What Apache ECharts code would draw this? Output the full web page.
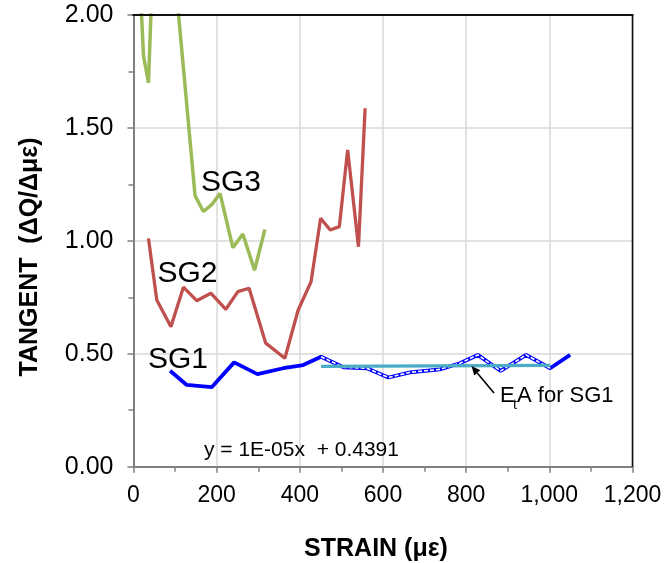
<!DOCTYPE html>
<html>
<head>
<meta charset="utf-8">
<script src="https://cdn.jsdelivr.net/npm/echarts@6/dist/echarts.min.js"></script>
<style>
html,body{margin:0;padding:0;background:#fff;}
#chart{width:665px;height:563px;}
</style>
</head>
<body>
<div id="chart"></div>
<script>
// ---- data ----
const xTickLabels = ['0', '200', '400', '600', '800', '1,000', '1,200'];
const yTickLabels = ['0.00', '0.50', '1.00', '1.50', '2.00'];

const sg1Strain  = [88, 128, 188, 242, 298, 360, 408, 451, 505, 561, 613, 665, 737, 785, 828, 883, 944, 1002, 1050];
const sg1Tangent = [0.425, 0.362, 0.352, 0.462, 0.410, 0.436, 0.450, 0.487, 0.440, 0.436, 0.395, 0.418, 0.431, 0.458, 0.495, 0.424, 0.495, 0.436, 0.495];

const sg2Strain  = [36, 56, 90, 120, 152, 186, 222, 251, 278, 318, 364, 396, 427, 450, 473, 495, 515, 541, 557];
const sg2Tangent = [1.011, 0.738, 0.620, 0.795, 0.735, 0.768, 0.697, 0.775, 0.790, 0.547, 0.480, 0.694, 0.819, 1.100, 1.048, 1.063, 1.403, 0.974, 1.587];

const sg3Strain  = [15, 24, 36, 48, 75, 100, 148, 168, 188, 208, 239, 263, 291, 316];
const sg3Tangent = [2.17, 1.82, 1.70, 2.32, 2.50, 2.17, 1.20, 1.13, 1.16, 1.21, 0.97, 1.03, 0.87, 1.05];

// fitted-range (dashed) part of SG1 and its trend line
const fitStart = 451, fitEnd = 1002;
const trendStrain  = [451, 1002];
const trendTangent = [0.444, 0.449];

const seriesNames = ['SG1', 'SG2', 'SG3'];
const equationText = 'y = 1E-05x  + 0.4391';

// ---- build ----
const pair = (xs, ys) => xs.map((x, i) => [x, ys[i]]);
const sg1 = pair(sg1Strain, sg1Tangent);
const sg1Fit = sg1.filter(p => p[0] >= fitStart && p[0] <= fitEnd);

const FONT = '"Liberation Sans", Arial, sans-serif';
const W = 665, H = 563;
const G = {left: 133.5, right: 32.5, top: 15, bottom: 96.3};
const gR = W - G.right, gB = H - G.bottom;

const chart = echarts.init(document.getElementById('chart'), null, {renderer: 'canvas'});

// arrow geometry (annotation)
const tail = [494, 393], head = [471.5, 366];
const dx = head[0] - tail[0], dy = head[1] - tail[1];
const len = Math.hypot(dx, dy), ux = dx / len, uy = dy / len;
const aL = 9, aW = 4;
const baseX = head[0] - ux * aL, baseY = head[1] - uy * aL;
const arrowPts = [head, [baseX - uy * aW, baseY + ux * aW], [baseX + uy * aW, baseY - ux * aW]];

const axisCommon = {
  axisLine: {show: true, onZero: false, lineStyle: {color: '#808080', width: 2}},
  axisTick: {show: true, inside: false, length: 6, lineStyle: {color: '#808080', width: 1.5}},
  minorTick: {show: true, splitNumber: 2, length: 5, lineStyle: {color: '#808080', width: 1.5}},
  splitLine: {show: true, lineStyle: {color: '#d9d9d9', width: 1.5}}
};

const option = {
  animation: false,
  backgroundColor: '#fff',
  grid: Object.assign({show: false}, G),
  xAxis: Object.assign({
    type: 'value', min: 0, max: 1200, interval: 200,
    axisLabel: {margin: 17, fontSize: 23, fontFamily: FONT, color: '#000',
      formatter: v => xTickLabels[Math.round(v / 200)]}
  }, axisCommon),
  yAxis: Object.assign({
    type: 'value', min: 0, max: 2, interval: 0.5,
    axisLabel: {margin: 20, fontSize: 25, fontFamily: FONT, color: '#000',
      formatter: v => yTickLabels[Math.round(v / 0.5)]}
  }, axisCommon),
  series: [
    {name: seriesNames[2], type: 'line', data: pair(sg3Strain, sg3Tangent), showSymbol: false, clip: true,
     lineStyle: {color: '#9bbb59', width: 3.5}, z: 2},
    {name: seriesNames[1], type: 'line', data: pair(sg2Strain, sg2Tangent), showSymbol: false, clip: true,
     lineStyle: {color: '#c0504d', width: 3.3}, z: 3},
    {name: seriesNames[0], type: 'line', data: sg1, showSymbol: false, clip: true,
     lineStyle: {color: '#0000ff', width: 3.8}, z: 4},
    {name: seriesNames[0] + ' fit range', type: 'line', data: sg1Fit, showSymbol: false, clip: true,
     lineStyle: {color: '#ffffff', width: 1.6, type: [4, 2]}, z: 5},
    {name: 'trend', type: 'line', data: pair(trendStrain, trendTangent), showSymbol: false, clip: true,
     lineStyle: {color: '#4bacc6', width: 3.2}, z: 6}
  ],
  graphic: [
    // top and right frame of the plot area
    {type: 'line', shape: {x1: G.left - 1, y1: G.top, x2: gR + 1, y2: G.top}, style: {stroke: '#111', lineWidth: 2}, z: 20},
    {type: 'line', shape: {x1: gR, y1: G.top, x2: gR, y2: gB}, style: {stroke: '#111', lineWidth: 1.6}, z: 20},
    {type: 'text', x: 201, y: 182.5, style: {text: seriesNames[2], fontSize: 30, fontFamily: FONT, fill: '#000', verticalAlign: 'middle'}, z: 10},
    {type: 'text', x: 157.5, y: 273.5, style: {text: seriesNames[1], fontSize: 30, fontFamily: FONT, fill: '#000', verticalAlign: 'middle'}, z: 10},
    {type: 'text', x: 148, y: 360, style: {text: seriesNames[0], fontSize: 30, fontFamily: FONT, fill: '#000', verticalAlign: 'middle'}, z: 10},
    {type: 'text', x: 204, y: 450.5, style: {text: equationText, fontSize: 21, fontFamily: FONT, fill: '#000', verticalAlign: 'middle'}, z: 10},
    {type: 'text', x: 500, y: 395.5, style: {text: 'E', fontSize: 22, fontFamily: FONT, fill: '#000', verticalAlign: 'middle'}, z: 10},
    {type: 'text', x: 513, y: 405, style: {text: 't', fontSize: 14, fontFamily: FONT, fill: '#000', verticalAlign: 'middle'}, z: 10},
    {type: 'text', x: 517, y: 395.5, style: {text: 'A for ' + seriesNames[0], fontSize: 22, fontFamily: FONT, fill: '#000', verticalAlign: 'middle'}, z: 10},
    {type: 'line', shape: {x1: tail[0], y1: tail[1], x2: baseX, y2: baseY}, style: {stroke: '#000', lineWidth: 1.6}, z: 10},
    {type: 'polygon', shape: {points: arrowPts}, style: {fill: '#000'}, z: 10},
    {type: 'text', x: 30, y: 257, rotation: Math.PI / 2,
     style: {text: 'TANGENT  (ΔQ/Δμε)', fontSize: 25, fontWeight: 'bold', fontFamily: FONT, fill: '#000', align: 'center', verticalAlign: 'middle'}, z: 10},
    {type: 'text', x: 376, y: 549,
     style: {text: 'STRAIN (με)', fontSize: 25, fontWeight: 'bold', fontFamily: FONT, fill: '#000', align: 'center', verticalAlign: 'middle'}, z: 10}
  ]
};
chart.setOption(option);
</script>
</body>
</html>
